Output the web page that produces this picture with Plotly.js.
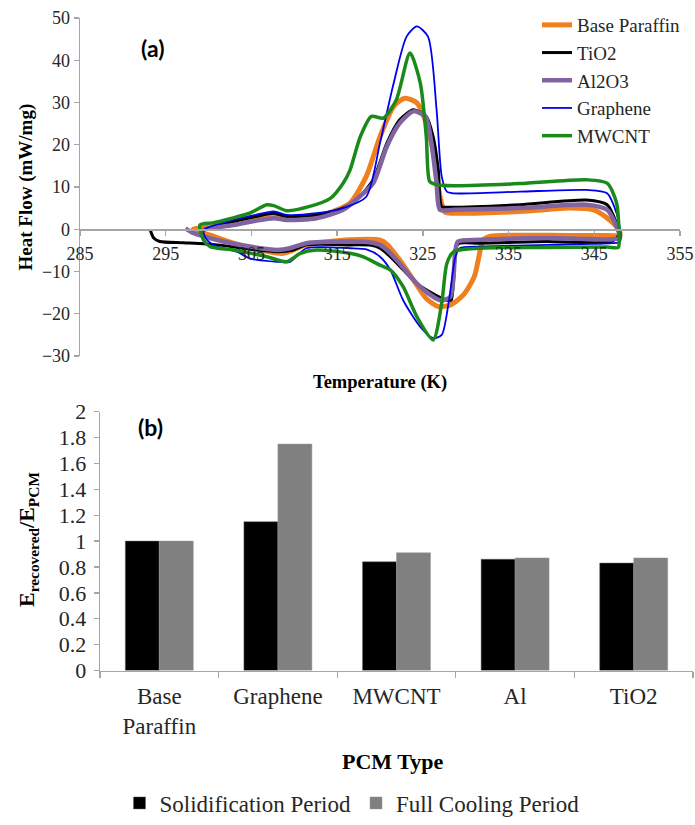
<!DOCTYPE html>
<html>
<head>
<meta charset="utf-8">
<script src="https://cdn.plot.ly/plotly-3.0.1.min.js"></script>
<style>html,body{margin:0;padding:0;background:#fff;}#chart{width:695px;height:825px;}</style>
</head>
<body>
<div id="chart"></div>
<script>
// ---- (a) DSC curves: temperature (K) and heat flow (mW/mg) ----
const paraffinT = [298.2, 300.0, 302.9, 305.5, 307.6, 309.1, 312.6, 315.0, 316.5, 318.4, 320.0, 321.6, 322.9, 324.3, 325.4, 326.4, 327.0, 327.6, 328.6, 336.3, 342.2, 344.9, 346.8, 347.8, 348.0, 346.5, 339.4, 332.8, 332.0, 331.7, 331.0, 329.7, 328.2, 326.8, 325.4, 323.9, 322.3, 320.8, 320.0, 316.5, 311.4, 308.7, 306.0, 302.9, 300.2, 298.2];
const paraffinQ = [0, 0.5, 1.4, 2.4, 3.0, 2.6, 3.0, 4.6, 6.2, 12.5, 21.9, 29.1, 31.0, 29.9, 25.1, 16.4, 7.7, 4.0, 3.8, 4.2, 5.0, 4.6, 2.2, 0, -1.4, -1.5, -1.4, -1.7, -2.6, -4.9, -11.2, -15.6, -17.9, -18.3, -16.4, -12.0, -7.3, -3.5, -2.6, -2.5, -3.7, -5.7, -4.9, -3.3, -1.4, 0];

const tio2T = [299.4, 302.9, 305.5, 307.6, 309.1, 312.6, 315.7, 317.5, 319.2, 320.8, 322.3, 323.9, 325.4, 326.2, 326.8, 327.2, 328.0, 336.3, 344.1, 346.5, 347.6, 348.0, 347.0, 339.4, 331.7, 329.3, 328.9, 328.3, 327.8, 325.8, 324.3, 322.7, 321.2, 320.0, 319.0, 316.5, 311.4, 309.9, 308.0, 304.8, 301.0, 297.1, 294.3, 293.6, 293.2];
const tio2Q = [-0.2, 1.8, 3.0, 3.8, 3.0, 3.4, 5.0, 7.5, 11.7, 20.4, 25.9, 28.3, 26.7, 21.9, 14.1, 5.4, 5.2, 5.8, 6.9, 5.8, 1.4, -1.0, -2.9, -2.9, -3.3, -3.3, -4.1, -16.8, -16.8, -14.8, -12.8, -9.6, -6.5, -4.5, -3.8, -3.7, -3.7, -4.9, -5.3, -4.7, -3.7, -3.2, -2.9, -2.1, -0.2];

const al2o3T = [299.4, 302.9, 305.5, 307.6, 309.1, 312.6, 315.7, 317.5, 319.2, 320.8, 322.3, 323.9, 325.3, 326.0, 326.6, 327.0, 328.6, 336.3, 344.1, 346.5, 347.6, 348.0, 347.0, 339.4, 331.7, 329.1, 328.8, 328.2, 327.0, 325.4, 323.9, 322.3, 320.8, 320.0, 318.5, 316.5, 311.4, 309.5, 308.0, 304.8, 301.7, 299.4, 298.2, 297.3];
const al2o3Q = [0, 1.0, 2.0, 2.6, 2.2, 2.6, 4.6, 7.5, 10.9, 19.6, 25.1, 27.9, 26.7, 20.4, 10.9, 4.6, 4.6, 5.0, 5.8, 4.6, 0.6, -2.0, -2.4, -2.1, -2.5, -2.9, -4.9, -16.0, -16.8, -14.8, -12.0, -8.1, -4.9, -3.7, -3.0, -2.9, -3.3, -4.5, -4.9, -4.1, -2.9, -1.7, -0.9, 0.2];

const grapheneT = [299.4, 302.9, 305.5, 307.6, 309.1, 312.6, 315.7, 318.4, 320.0, 321.6, 323.1, 324.3, 325.6, 326.6, 327.2, 327.8, 328.6, 336.3, 344.1, 346.5, 347.6, 348.0, 348.0, 347.0, 339.4, 331.7, 329.3, 328.8, 328.0, 327.2, 326.2, 324.7, 322.7, 321.2, 320.0, 318.5, 316.5, 311.4, 309.5, 308.0, 304.8, 303.3, 301.0, 299.8, 299.4];
const grapheneQ = [-0.2, 2.2, 3.4, 4.2, 3.4, 3.8, 5.0, 7.7, 20.4, 34.6, 45.6, 48.0, 45.6, 28.3, 12.5, 8.9, 8.5, 8.9, 9.3, 8.5, 3.8, 0, -3.0, -3.3, -3.7, -4.1, -4.5, -6.5, -17.5, -25.0, -25.8, -23.1, -16.8, -9.6, -6.5, -4.8, -4.5, -4.5, -7.7, -7.7, -6.9, -5.3, -4.1, -2.5, -0.2];

const mwcntT = [299.0, 300.5, 302.5, 304.8, 306.8, 307.6, 309.1, 311.8, 314.2, 315.7, 316.5, 317.7, 319.0, 320.4, 321.9, 323.5, 324.7, 325.4, 325.8, 326.5, 328.6, 336.3, 344.1, 346.5, 347.6, 347.9, 347.8, 346.5, 339.4, 331.7, 328.6, 327.8, 327.2, 326.2, 324.3, 322.7, 321.2, 320.0, 318.0, 316.5, 312.6, 310.7, 309.1, 306.8, 302.9, 300.2, 299.4, 299.0];
const mwcntQ = [1.0, 1.5, 2.5, 3.8, 5.8, 5.6, 4.4, 5.4, 7.3, 10.9, 14.0, 21.9, 26.7, 26.3, 30.6, 41.7, 34.6, 21.9, 11.3, 10.6, 10.3, 10.8, 11.7, 10.9, 6.2, -2.5, -4.3, -4.2, -4.3, -4.5, -5.3, -8.1, -17.5, -26.2, -20.7, -13.6, -9.6, -8.5, -6.5, -5.7, -4.9, -5.7, -7.7, -6.5, -4.9, -4.1, -2.5, 1.0];

const dscNames = ['Base Paraffin', 'TiO2', 'Al2O3', 'Graphene', 'MWCNT'];

// ---- (b) Energy recovered ratio ----
const pcmTypes = ['Base<br>Paraffin', 'Graphene', 'MWCNT', 'Al', 'TiO2'];
const solidification = [1.0, 1.15, 0.84, 0.86, 0.83];
const fullCooling = [1.0, 1.75, 0.91, 0.87, 0.87];
const barNames = ['Solidification Period', 'Full Cooling Period'];

const W = 695, H = 825;
const fx = x => x / W;
const fy = y => 1 - y / H;
const SERIF = 'Liberation Serif';
const AX = '#a6a6a6';
const TXT = '#262626';

const dscT = [paraffinT, tio2T, al2o3T, grapheneT, mwcntT];
const dscQ = [paraffinQ, tio2Q, al2o3Q, grapheneQ, mwcntQ];
const dscColors = ['#F07F1E', '#000000', '#8064A2', '#0000EE', '#1A8A1A'];
const dscWidths = [5, 3, 4.5, 1.8, 3.5];

const traces = dscNames.map((n, i) => ({
  type: 'scatter', mode: 'lines', name: n,
  x: dscT[i], y: dscQ[i],
  line: {color: dscColors[i], width: dscWidths[i], shape: 'spline', smoothing: 0.7},
  xaxis: 'x', yaxis: 'y', legend: 'legend'
}));

traces.push({
  type: 'bar', name: barNames[0], x: pcmTypes, y: solidification,
  marker: {color: '#000000', line: {color: '#666', width: 0.5}},
  xaxis: 'x2', yaxis: 'y2', legend: 'legend2'
});
traces.push({
  type: 'bar', name: barNames[1], x: pcmTypes, y: fullCooling,
  marker: {color: '#808080', line: {color: '#999', width: 0.5}},
  xaxis: 'x2', yaxis: 'y2', legend: 'legend2'
});

function ann(text, x, y, size, family, angle) {
  return {text: text, x: fx(x), y: fy(y), xref: 'paper', yref: 'paper',
    xanchor: 'center', yanchor: 'middle', showarrow: false, textangle: angle || 0,
    font: {family: family, size: size, color: '#000'}};
}

const layout = {
  width: W, height: H,
  margin: {l: 0, r: 0, t: 0, b: 0},
  paper_bgcolor: '#fff', plot_bgcolor: '#fff',
  font: {family: SERIF, size: 18, color: TXT},
  showlegend: true,
  barmode: 'group', bargap: 0.427, bargroupgap: 0,
  xaxis: {
    domain: [fx(80), fx(680)], range: [285, 355], tick0: 285, dtick: 10,
    anchor: 'free', position: fy(229.3),
    showline: true, linecolor: AX, linewidth: 1.3,
    ticks: 'outside', ticklen: 5, tickcolor: AX, tickwidth: 1.3,
    showgrid: false, zeroline: false, ticklabelstandoff: 3,
    tickfont: {family: SERIF, size: 18, color: TXT}
  },
  yaxis: {
    domain: [fy(356), fy(18)], range: [-30, 50], dtick: 10,
    anchor: 'x', showline: true, linecolor: AX, linewidth: 1.3,
    ticks: 'outside', ticklen: 5, tickcolor: AX, tickwidth: 1.3,
    showgrid: false, zeroline: false,
    tickfont: {family: SERIF, size: 18, color: TXT}
  },
  xaxis2: {
    domain: [fx(100), fx(693)], anchor: 'y2', type: 'category',
    tickson: 'boundaries', ticks: 'outside', ticklen: 6, tickcolor: AX, tickwidth: 1.3,
    showline: true, linecolor: AX, linewidth: 1.3,
    showgrid: false, zeroline: false, ticklabelstandoff: 5,
    tickfont: {family: SERIF, size: 23, color: TXT}
  },
  yaxis2: {
    domain: [fy(670.5), fy(411.7)], range: [0, 2], dtick: 0.2, anchor: 'x2',
    showline: true, linecolor: AX, linewidth: 1.3,
    ticks: 'outside', ticklen: 5, tickcolor: AX, tickwidth: 1.3,
    showgrid: false, zeroline: false, ticklabelstandoff: 3,
    tickfont: {family: SERIF, size: 22, color: TXT}
  },
  legend: {
    x: fx(537), y: fy(6), xanchor: 'left', yanchor: 'top',
    bgcolor: 'rgba(0,0,0,0)', font: {family: SERIF, size: 19, color: TXT},
    tracegroupgap: 0
  },
  legend2: {
    orientation: 'h', x: fx(352), xanchor: 'center', y: fy(803), yanchor: 'middle',
    bgcolor: 'rgba(0,0,0,0)', font: {family: SERIF, size: 23, color: TXT}
  },
  annotations: [
    ann('<b>(a)</b>', 152, 48, 23, 'Lato'),
    ann('<b>(b)</b>', 150, 427, 23, 'Lato'),
    ann('<b>Heat Flow (mW/mg)</b>', 25, 187.5, 19, SERIF, -90),
    ann('<b>Temperature (K)</b>', 380, 382, 18.5, SERIF),
    ann('<b>PCM Type</b>', 392, 761, 22, SERIF),
    ann('<b>E<sub>recovered</sub>/E<sub>PCM</sub></b>', 28, 540, 22, SERIF, -90)
  ]
};

Plotly.newPlot('chart', traces, layout, {displayModeBar: false, staticPlot: true});
</script>
</body>
</html>
